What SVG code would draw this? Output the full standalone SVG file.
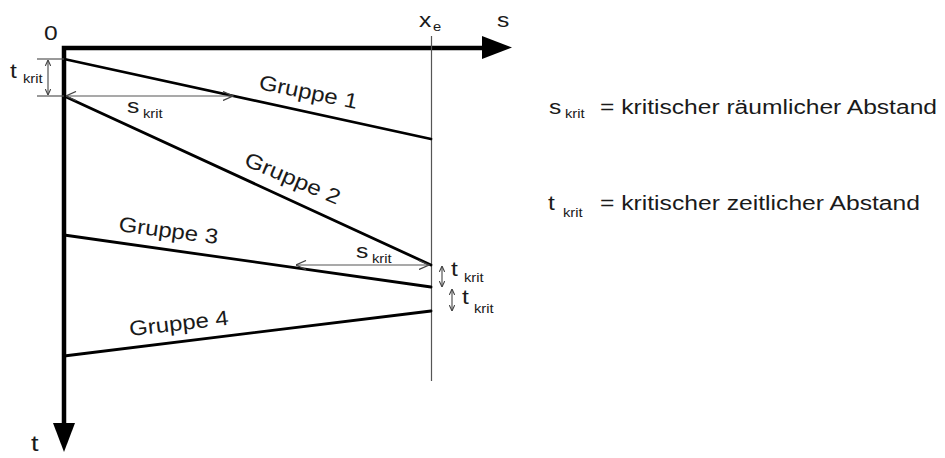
<svg xmlns="http://www.w3.org/2000/svg" width="945" height="458" viewBox="0 0 945 458">
<style>
text{font-family:"Liberation Sans",Arial,sans-serif;fill:#1a1a1a}
.lbl{font-size:20px}
.sub{font-size:12px}
.grp{font-size:21px}
.axis{fill:none;stroke:#000;stroke-width:4.5;stroke-linejoin:miter}
.head{fill:#000;stroke:none}
.gl{fill:none;stroke:#000;stroke-width:2.8;stroke-linecap:round}
.thin{fill:none;stroke:#555;stroke-width:1.2}
</style>
<defs>
<marker id="a" viewBox="0 0 10 10" refX="10" refY="5" markerUnits="userSpaceOnUse" markerWidth="11" markerHeight="10" orient="auto-start-reverse">
<path d="M0,0.5 L10,5 L0,9.5" fill="none" stroke="#444" stroke-width="1.3"/>
</marker>
<marker id="as" viewBox="0 0 10 10" refX="10" refY="5" markerUnits="userSpaceOnUse" markerWidth="6" markerHeight="6" orient="auto-start-reverse">
<path d="M0,0.5 L10,5 L0,9.5" fill="none" stroke="#444" stroke-width="1.8"/>
</marker>
</defs>

<g id="axes">
<path class="axis" d="M64,424 V48 H484"/>
<path class="head" d="M482,36 L512,47.5 L482,59 Z"/>
<path class="head" d="M53,423 L75,423 L64,452 Z"/>
<text class="lbl" transform="matrix(1.23,0,0,1,44,40)">0</text>
<text class="lbl" transform="matrix(1.23,0,0,1,497,27)">s</text>
<text class="lbl" transform="matrix(1.23,0,0,1,31,451)" style="font-size:22px">t</text>
</g>

<g id="xe">
<line class="thin" x1="431.5" y1="36" x2="431.5" y2="381"/>
<text class="lbl" transform="matrix(1.23,0,0,1,419,27)">x</text>
<text class="sub" transform="matrix(1.23,0,0,1,433,31)">e</text>
</g>

<g id="gruppe1">
<line class="gl" x1="64" y1="59" x2="431" y2="139"/>
<text class="grp" x="258" y="89" transform="rotate(11.5 258 89)" textLength="100" lengthAdjust="spacingAndGlyphs">Gruppe 1</text>
</g>
<g id="gruppe2">
<line class="gl" x1="64" y1="96" x2="431" y2="265"/>
<text class="grp" x="243" y="165" transform="rotate(23 243 165)" textLength="102" lengthAdjust="spacingAndGlyphs">Gruppe 2</text>
</g>
<g id="gruppe3">
<line class="gl" x1="64" y1="235" x2="431" y2="287"/>
<text class="grp" x="118" y="231" transform="rotate(7.5 118 231)" textLength="100" lengthAdjust="spacingAndGlyphs">Gruppe 3</text>
</g>
<g id="gruppe4">
<line class="gl" x1="64" y1="356" x2="431" y2="311"/>
<text class="grp" x="130" y="336" transform="rotate(-6.5 130 336)" textLength="100" lengthAdjust="spacingAndGlyphs">Gruppe 4</text>
</g>

<g id="connectors">
<line class="thin" x1="37" y1="59" x2="64" y2="59"/>
<line class="thin" x1="37" y1="96" x2="64" y2="96"/>
<line class="thin" x1="48" y1="60" x2="48" y2="95" marker-start="url(#as)" marker-end="url(#as)"/>
<line class="thin" x1="66" y1="96" x2="233" y2="96" marker-start="url(#a)" marker-end="url(#a)"/>
<line class="thin" x1="296" y1="265" x2="429" y2="265" marker-start="url(#a)" marker-end="url(#a)"/>
<line class="thin" x1="442" y1="266" x2="442" y2="287" marker-start="url(#as)" marker-end="url(#as)"/>
<line class="thin" x1="452" y1="289" x2="452" y2="311" marker-start="url(#as)" marker-end="url(#as)"/>
</g>

<g id="dim-labels">
<text class="lbl" transform="matrix(1.23,0,0,1,10,78)">t</text>
<text class="sub" transform="matrix(1.23,0,0,1,23,83)">krit</text>
<text class="lbl" transform="matrix(1.23,0,0,1,127,113)">s</text>
<text class="sub" transform="matrix(1.23,0,0,1,143,118)">krit</text>
<text class="lbl" transform="matrix(1.23,0,0,1,356,258)">s</text>
<text class="sub" transform="matrix(1.23,0,0,1,372,263)">krit</text>
<text class="lbl" transform="matrix(1.23,0,0,1,451,276)">t</text>
<text class="sub" transform="matrix(1.23,0,0,1,464,282)">krit</text>
<text class="lbl" transform="matrix(1.23,0,0,1,462,304)">t</text>
<text class="sub" transform="matrix(1.23,0,0,1,474,313)">krit</text>
</g>

<g id="legend-s">
<text class="lbl" transform="matrix(1.23,0,0,1,549,114)">s</text>
<text class="sub" transform="matrix(1.23,0,0,1,565,118)">krit</text>
<text class="lbl" x="600" y="114" textLength="337" lengthAdjust="spacingAndGlyphs">= kritischer räumlicher Abstand</text>
</g>
<g id="legend-t">
<text class="lbl" transform="matrix(1.23,0,0,1,548,210)">t</text>
<text class="sub" transform="matrix(1.23,0,0,1,563,217)">krit</text>
<text class="lbl" x="600" y="210" textLength="320" lengthAdjust="spacingAndGlyphs">= kritischer zeitlicher Abstand</text>
</g>
</svg>
